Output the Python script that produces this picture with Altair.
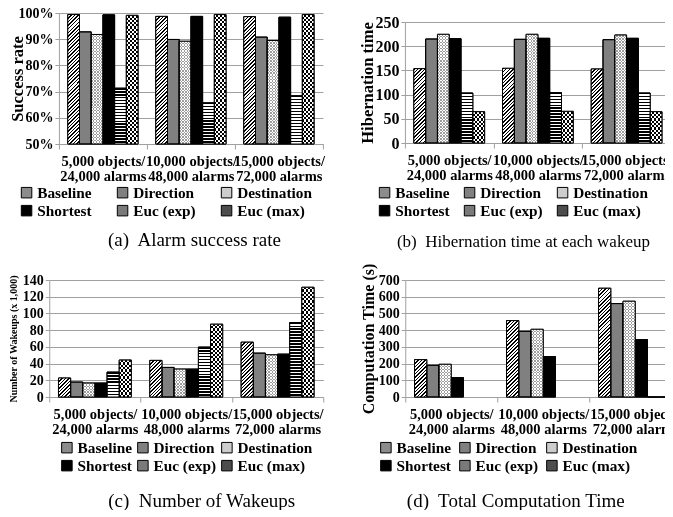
import math
import altair as alt
import pandas as pd

SERIES = ["Baseline", "Direction", "Destination", "Shortest", "Euc (exp)", "Euc (max)"]
CATEGORIES = ["5,000 objects/\n24,000 alarms", "10,000 objects/\n48,000 alarms", "15,000 objects/\n72,000 alarms"]

# (a) alarm success rate, in percent
success_rate = {
    "Baseline": [99.4, 98.7, 98.6],
    "Direction": [92.8, 89.9, 90.8],
    "Destination": [91.8, 89.2, 89.5],
    "Shortest": [99.3, 98.7, 98.4],
    "Euc (exp)": [71.3, 65.7, 68.4],
    "Euc (max)": [99.1, 99.4, 99.4],
}
# (b) hibernation time at each wakeup
hibernation_time = {
    "Baseline": [153.6, 154.3, 152.9],
    "Direction": [214.9, 214.2, 213.5],
    "Destination": [224.5, 224.5, 223.1],
    "Shortest": [215.6, 216.3, 216.3],
    "Euc (exp)": [103.3, 104.0, 103.3],
    "Euc (max)": [64.7, 65.4, 64.7],
}
# (c) number of wakeups (x 1,000)
wakeups = {
    "Baseline": [22.7, 43.8, 65.6],
    "Direction": [17.9, 35.4, 52.5],
    "Destination": [16.7, 33.4, 50.5],
    "Shortest": [16.7, 33.4, 51.3],
    "Euc (exp)": [29.8, 59.7, 89.1],
    "Euc (max)": [44.2, 87.1, 131.3],
}
# (d) total computation time (s)
computation_time = {
    "Baseline": [223.5, 457.0, 650.7],
    "Direction": [189.6, 393.0, 558.9],
    "Destination": [195.6, 405.0, 572.9],
    "Shortest": [115.8, 241.5, 343.3],
    "Euc (exp)": [None, None, 0],
    "Euc (max)": [None, None, 0],
}

SERIF = "Liberation Serif"
GRID = "#a0a0a0"
LEGEND_FILL = ["#8c8c8c", "#808080", "#cdcdcd", "#000000", "#7a7a7a", "#4d4d4d"]
OFFSET_PAD = 0.76


def band_stops(n, frac, on, off):
    n = max(1, int(round(n)))
    pts = []
    for i in range(n):
        a, b, c = i / n, (i + frac) / n, (i + 1) / n
        pts += [(a, on), (b, on), (b, off), (c, off)]
    return [alt.GradientStop(offset=round(o, 5), color=col) for o, col in pts]


def gradient(stops, x2, y2):
    return alt.LinearGradient(gradient="linear", stops=stops, x1=0, y1=0,
                              x2=round(x2, 5), y2=round(y2, 5))


def pattern_marks(series, W, H):
    if H < 0.5:
        return []
    if series == "Baseline":
        period = 2.5
        n = (W + H) / (math.sqrt(2) * period)
        s = H * (W + H) / (H * H + W * W)
        return [dict(fill=gradient(band_stops(n, 0.42, "#000000", "#ffffff"), s * W / H, s))]
    if series == "Euc (exp)":
        return [dict(fill=gradient(band_stops(H / 3.0, 0.5, "#000000", "#ffffff"), 0, 1))]
    if series in ("Euc (max)", "Destination"):
        sq = 2.2 if series == "Euc (max)" else 1.5
        marks = [
            dict(fill=gradient(band_stops(W / (2 * sq), 0.5, "#000000", "#ffffff"), 1, 0)),
            dict(fill=gradient(band_stops(H / (2 * sq), 0.5, "#ffffff", "rgba(255,255,255,0)"), 0, 1),
                 blend="difference"),
        ]
        if series == "Destination":
            marks.append(dict(fill="#ffffff", fillOpacity=0.62))
        return marks
    return []


def panel(values, ymin, ymax, ystep, label_expr, width, height, ylabel_size, ytitle, ytitle_size,
          ytitle_pad, caption, cap_size, cap_x, cap_pad, legend_x, legend_y, col_pad):
    rows = []
    for si, s in enumerate(SERIES):
        for ci, (c, v) in enumerate(zip(CATEGORIES, values[s])):
            if v is not None:
                rows.append({"series": s, "category": c, "value": v, "si": si, "ci": ci})
    df = pd.DataFrame(rows)

    x = alt.X("category:N",
              scale=alt.Scale(domain=CATEGORIES, paddingInner=0, paddingOuter=0),
              axis=alt.Axis(title=caption, titleFont=SERIF, titleFontSize=cap_size,
                            titleFontWeight="normal", titleColor="black", titlePadding=cap_pad,
                            titleX=cap_x,
                            labelExpr="split(datum.label, '\\n')", labelAngle=0,
                            labelFont=SERIF, labelFontWeight="bold", labelFontSize=14.5,
                            labelColor="black", labelLineHeight=15, labelPadding=5,
                            tickBand="extent", tickColor=GRID, tickSize=5,
                            domainColor=GRID, grid=False))
    xo = alt.XOffset("series:N",
                     scale=alt.Scale(domain=SERIES, paddingInner=0, paddingOuter=OFFSET_PAD))
    yvals = list(range(ymin, ymax + 1, ystep))
    y = alt.Y("value:Q",
              scale=alt.Scale(domain=[ymin, ymax], nice=False, zero=False),
              axis=alt.Axis(title=ytitle, titleFont=SERIF, titleFontWeight="bold",
                            titleFontSize=ytitle_size, titleColor="black", titlePadding=ytitle_pad,
                            values=yvals, labelExpr=label_expr, labelFont=SERIF,
                            labelFontSize=ylabel_size, labelFontWeight="bold", labelColor="black",
                            labelPadding=2, tickColor=GRID, tickSize=4, domainColor=GRID,
                            grid=True, gridColor=GRID))
    y2 = alt.datum(ymin)

    base = alt.Chart(df)
    layers = [
        base.mark_bar(stroke="black", strokeWidth=1).encode(
            x=x, xOffset=xo, y=y, y2=y2,
            color=alt.Color("series:N",
                            scale=alt.Scale(domain=SERIES, range=LEGEND_FILL),
                            legend=alt.Legend(title=None, orient="none", legendX=legend_x,
                                              legendY=legend_y, columns=3, direction="horizontal",
                                              symbolType="square", symbolSize=110,
                                              symbolStrokeColor="black", symbolStrokeWidth=1,
                                              labelFont=SERIF, labelFontSize=15.3,
                                              labelFontWeight="bold", labelColor="black",
                                              labelOffset=3, columnPadding=col_pad,
                                              rowPadding=2)))
    ]
    W = width / 3 / (len(SERIES) + 2 * OFFSET_PAD)
    for r in rows:
        H = (r["value"] - ymin) / (ymax - ymin) * height
        for kw in pattern_marks(r["series"], W, H):
            layers.append(
                base.transform_filter(alt.FieldEqualPredicate(field="si", equal=r["si"]))
                .transform_filter(alt.FieldEqualPredicate(field="ci", equal=r["ci"]))
                .mark_bar(**kw)
                .encode(x=x, xOffset=xo, y=y, y2=y2)
            )
    layers.append(base.mark_bar(fillOpacity=0, stroke="black", strokeWidth=1)
                  .encode(x=x, xOffset=xo, y=y, y2=y2))
    return alt.layer(*layers).properties(width=width, height=height)


pa = panel(success_rate, 50, 100, 10, "datum.value + '%'", 264, 131, 14, "Success rate", 16.5, -7.5,
           "(a)\u00a0 Alarm success rate", 19, 135, 48, -40, 172, 23)
pb = panel(hibernation_time, 0, 250, 50, "datum.label", 266, 121, 16, "Hibernation time", 16.5, -1,
           "(b)\u00a0 Hibernation time at each wakeup", 17, 118, 52, -28, 163, 12)
pc = panel(wakeups, 0, 140, 20, "datum.label", 274, 117, 14, "Number of Wakeups (x 1,000)", 10, 4,
           "(c)\u00a0 Number of Wakeups", 19, 152, 56, 10, 160, 3)
pd_ = panel(computation_time, 0, 700, 100, "datum.label", 276, 117, 14, "Computation Time (s)", 16, 2,
            "(d)\u00a0 Total Computation Time", 19, 110, 56, -27, 160, 6)

# invisible 1x1 view that only lowers panel (b) a little below panel (a)
spacer = alt.Chart(pd.DataFrame({"v": [0]})).mark_point(opacity=0, size=1).properties(width=1, height=1)

RES = dict(color="independent", x="independent", y="independent", xOffset="independent")
col_b = alt.vconcat(spacer, pb, spacing=0).resolve_scale(**RES).resolve_legend(color="independent")
row1 = alt.hconcat(pa, col_b, spacing=34).resolve_scale(**RES).resolve_legend(color="independent")
row2 = alt.hconcat(pc, pd_, spacing=35).resolve_scale(**RES).resolve_legend(color="independent")
chart = (
    alt.vconcat(row1, row2, spacing=13, center=True)
    .resolve_scale(**RES)
    .resolve_legend(color="independent")
    .properties(padding={"left": 0, "top": -2, "right": -17, "bottom": -1})
    .configure_view(stroke=None)
)
chart.save("out.html", embed_options={"renderer": "svg", "actions": False})
